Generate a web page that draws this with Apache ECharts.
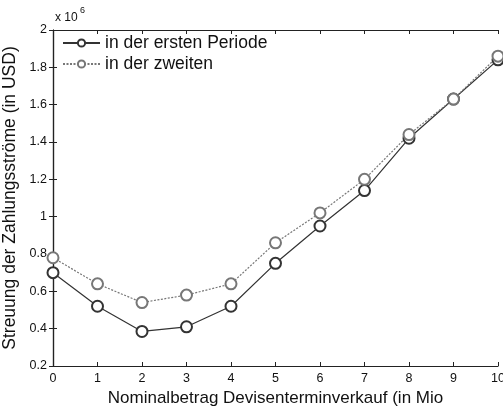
<!DOCTYPE html>
<html><head><meta charset="utf-8">
<script src="https://cdn.jsdelivr.net/npm/echarts@6/dist/echarts.min.js"></script>
<style>html,body{margin:0;padding:0;background:#fff}#c{width:503px;height:408px}</style>
</head><body><div id="c"></div>
<script>
const xValues = [0,1,2,3,4,5,6,7,8,9,10];
const seriesNames = ['in der ersten Periode','in der zweiten'];
const firstPeriod = [0.70,0.52,0.385,0.41,0.52,0.75,0.95,1.14,1.42,1.63,1.84];
const secondPeriod = [0.78,0.64,0.54,0.58,0.64,0.86,1.02,1.20,1.44,1.63,1.86];
const yTicks = [0.2,0.4,0.6,0.8,1,1.2,1.4,1.6,1.8,2];

const font = 'Liberation Sans, Arial, sans-serif';
const chart = echarts.init(document.getElementById('c'));
const axisCommon = {
  axisLine:{show:true,lineStyle:{color:'#222',width:1.2}},
  axisTick:{show:true,inside:true,length:4,lineStyle:{color:'#222'}},
  splitLine:{show:false}
};
chart.setOption({
  backgroundColor:'#fff',
  animation:false,
  grid:{left:53,right:5,top:30,bottom:42,containLabel:false,outerBoundsMode:'none'},
  legend:{
    left:57, top:29, orient:'vertical', itemGap:3, itemWidth:37, itemHeight:9,
    textStyle:{fontFamily:font,fontSize:17.5,color:'#111'},
    data:seriesNames
  },
  xAxis:[
    Object.assign({type:'value',min:0,max:10,interval:1,position:'bottom',
      name:'Nominalbetrag Devisenterminverkauf (in Mio',nameLocation:'middle',nameGap:23,
      nameTextStyle:{fontFamily:font,fontSize:17,color:'#111'},
      axisLabel:{fontFamily:font,fontSize:12.5,color:'#111',margin:6}},axisCommon),
    Object.assign({type:'value',min:0,max:10,interval:1,position:'top',axisLabel:{show:false}},axisCommon)
  ],
  yAxis:[
    Object.assign({type:'value',min:yTicks[0],max:yTicks[yTicks.length-1],interval:0.2,position:'left',
      name:'Streuung der Zahlungsströme (in USD)',nameLocation:'middle',nameGap:25,nameRotate:90,
      nameTextStyle:{fontFamily:font,fontSize:17.5,color:'#111'},
      axisLabel:{fontFamily:font,fontSize:12.5,color:'#111',margin:6,
        formatter:v=>String(Math.round(v*10)/10)}},axisCommon),
    Object.assign({type:'value',min:yTicks[0],max:yTicks[yTicks.length-1],interval:0.2,position:'right',axisLabel:{show:false}},axisCommon)
  ],
  graphic:[{type:'text',left:55,top:12,style:{text:'x 10',font:'12px '+font,fill:'#111'}},
           {type:'text',left:80,top:6,style:{text:'6',font:'9px '+font,fill:'#111'}}],
  series:[
    {name:seriesNames[0],type:'line',data:xValues.map((x,i)=>[x,firstPeriod[i]]),
     symbol:'emptyCircle',symbolSize:11,color:'#333',
     lineStyle:{color:'#333',width:1.2},itemStyle:{color:'#333',borderColor:'#333',borderWidth:1}},
    {name:seriesNames[1],type:'line',data:xValues.map((x,i)=>[x,secondPeriod[i]]),
     symbol:'emptyCircle',symbolSize:11,color:'#777',
     lineStyle:{color:'#777',width:1.2,type:[2,1.5]},itemStyle:{color:'#777',borderColor:'#777',borderWidth:1}}
  ]
});
</script></body></html>
